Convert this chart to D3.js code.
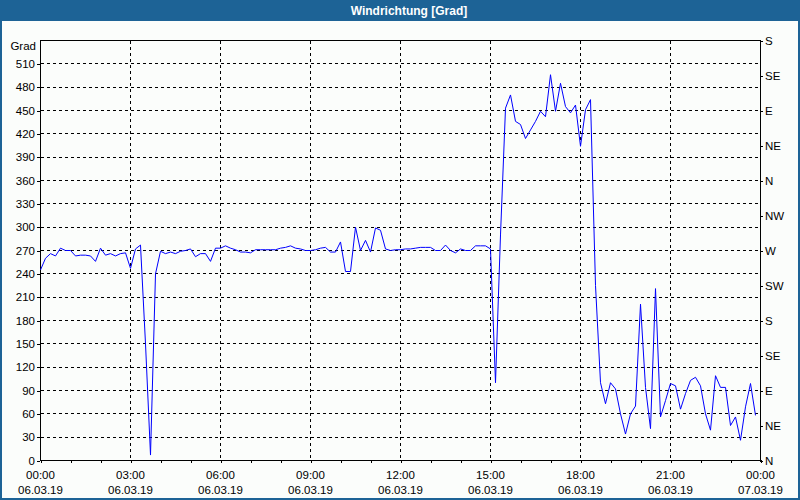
<!DOCTYPE html>
<html><head><meta charset="utf-8">
<script src="https://cdn.jsdelivr.net/npm/d3@7/dist/d3.min.js"></script>
<style>
html,body{margin:0;padding:0;background:#fbfdfb;}
svg{display:block;}
text{font-family:"Liberation Sans",Arial,sans-serif;}
</style></head>
<body><svg id="chart" width="800" height="500"></svg>
<script>
const title = "Windrichtung [Grad]";
const yUnit = "Grad";
const startTime = "2019-03-06T00:00";
const intervalMinutes = 10;
const values = [
245,260,266,263,273,270,270,263,264,264,263,256,273,264,266,263,266,267,
247,272,277,150,7,240,269,266,268,266,269,270,272,262,266,266,256,273,
273,276,273,271,268,268,267,271,271,271,271,271,273,274,276,273,272,270,
270,271,273,274,268,268,281,243,243,300,270,283,268,299,296,272,270,271,
271,272,272,273,274,274,274,270,270,277,270,267,272,270,270,276,276,276,
272,100,290,453,470,436,432,414,425,436,449,442,496,449,485,455,447,457,
404,451,464,225,100,73,100,92,60,34,60,70,201,94,41,221,56,77,
99,96,66,86,103,107,96,60,39,109,94,94,45,56,26,69,99,58
];
const leftTickValues = [0,30,60,90,120,150,180,210,240,270,300,330,360,390,420,450,480,510];
const rightTickValues = [0,45,90,135,180,225,270,315,360,405,450,495,540];
const rightTickLabels = ["N","NE","E","SE","S","SW","W","NW","N","NE","E","SE","S"];
const xTickHours = [0,1,2,3,4,5,6,7,8,9,10,11,12,13,14,15,16,17,18,19,20,21,22,23,24];
const xLabelHours = [0,3,6,9,12,15,18,21,24];
const xLabelTimes = ["00:00","03:00","06:00","09:00","12:00","15:00","18:00","21:00","00:00"];
const xLabelDates = ["06.03.19","06.03.19","06.03.19","06.03.19","06.03.19","06.03.19","06.03.19","06.03.19","07.03.19"];
const yDomain = [0,540];
const xDomainHours = [0,24];

const svg = d3.select("#chart");
const W = 800, H = 500;
const L = 40.5, R = 760.5, T = 40.5, B = 460.5;
const blue = "#1d6396";
const fontSize = "11.5px";

svg.append("rect").attr("width",W).attr("height",H).attr("fill","#fbfdfb");
svg.append("rect").attr("x",0).attr("y",0).attr("width",W).attr("height",21).attr("fill",blue);
svg.append("text").attr("x",409).attr("y",15).attr("text-anchor","middle")
  .attr("fill","#fff").attr("font-weight","bold").attr("font-size","12px").text(title);
// panel border
svg.append("path").attr("d",`M1,21V499H799V21`).attr("fill","none").attr("stroke",blue).attr("stroke-width",2);

const x = d3.scaleLinear().domain(xDomainHours).range([L,R]);
const y = d3.scaleLinear().domain(yDomain).range([B,T]);
const hoursOf = i => i*intervalMinutes/60;

// grid
const g = svg.append("g");
g.selectAll(".hg").data(leftTickValues.filter(v=>v>0)).join("line")
  .attr("x1",L).attr("x2",R).attr("y1",d=>Math.round(y(d)-0.5)+0.5).attr("y2",d=>Math.round(y(d)-0.5)+0.5)
  .attr("stroke","#000").attr("stroke-dasharray","3,3").attr("shape-rendering","crispEdges");
g.selectAll(".vg").data(xLabelHours.filter(h=>h>0&&h<24)).join("line")
  .attr("y1",T).attr("y2",B).attr("x1",d=>x(d)).attr("x2",d=>x(d))
  .attr("stroke","#000").attr("stroke-dasharray","3,3").attr("shape-rendering","crispEdges");

// axes
const axL = svg.append("g").attr("transform",`translate(${L-0.5},0)`)
  .call(d3.axisLeft(y).tickValues(leftTickValues).tickSize(3).tickPadding(2).tickFormat(d3.format("d")));
const axR = svg.append("g").attr("transform",`translate(${R-0.5},0)`)
  .call(d3.axisRight(y).tickValues(rightTickValues).tickSize(3).tickPadding(2).tickFormat((d,i)=>rightTickLabels[i]));
const axB = svg.append("g").attr("transform",`translate(0,${B-0.5})`)
  .call(d3.axisBottom(x).tickValues(xTickHours).tickSize(3).tickFormat(""));
[axL,axR,axB].forEach(a=>{
  a.select(".domain").remove();
  a.selectAll("line").attr("stroke","#000").attr("shape-rendering","crispEdges");
  a.selectAll("text").attr("font-size",fontSize).attr("fill","#000").attr("font-family","Liberation Sans, Arial, sans-serif");
});
// frame
svg.append("rect").attr("x",L).attr("y",T).attr("width",R-L).attr("height",B-T)
  .attr("fill","none").attr("stroke","#000").attr("shape-rendering","crispEdges");

svg.append("text").attr("x",36).attr("y",50).attr("text-anchor","end").attr("font-size",fontSize).text(yUnit);

// bottom labels
const lab = svg.append("g").selectAll("g").data(xLabelHours).join("g");
lab.append("text").attr("x",d=>x(d)).attr("y",479).attr("text-anchor","middle").attr("font-size",fontSize)
  .text((d,i)=>xLabelTimes[i]);
lab.append("text").attr("x",d=>x(d)).attr("y",494).attr("text-anchor","middle").attr("font-size",fontSize)
  .text((d,i)=>xLabelDates[i]);

// line
const line = d3.line().x((d,i)=>x(hoursOf(i))).y(d=>y(d));
svg.append("path").datum(values).attr("d",line).attr("fill","none")
  .attr("stroke","#0000ff").attr("stroke-width",1);
</script></body></html>
